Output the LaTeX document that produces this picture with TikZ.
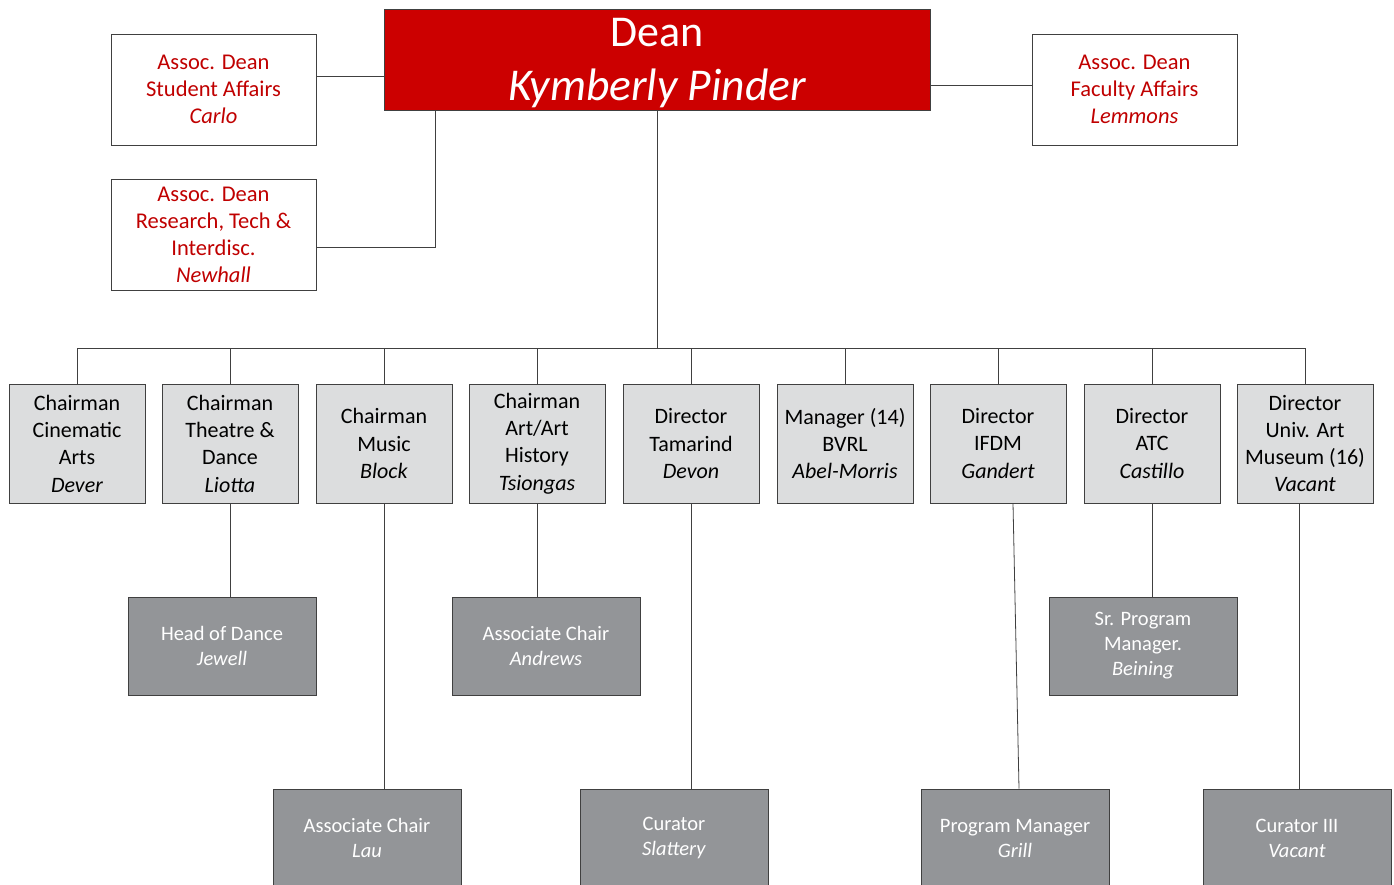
\documentclass[tikz,border=0pt]{standalone}
\usepackage{fontspec}
\setmainfont{Carlito}
\definecolor{deanred}{HTML}{CC0000}
\definecolor{assocred}{HTML}{C00000}
\definecolor{edgegray}{HTML}{404040}
\definecolor{unitgray}{HTML}{DCDDDE}
\definecolor{staffgray}{HTML}{939598}
\begin{document}
\begin{tikzpicture}[x=1pt,y=-1pt,
  conn/.style={draw=edgegray,line width=0.8pt},
  boxbase/.style={draw=edgegray,line width=0.8pt,inner sep=0pt,align=center},
  deanbox/.style={boxbase,fill=deanred,text=white,minimum width=546pt,minimum height=101pt,
    font=\fontsize{44}{54}\selectfont,text height=90pt,text depth=9pt},
  assoc/.style={boxbase,fill=white,text=assocred,minimum width=205pt,minimum height=111pt,
    font=\fontsize{22.5}{27}\selectfont},
  unit/.style={boxbase,fill=unitgray,text=black,minimum width=136pt,minimum height=119pt,
    font=\fontsize{22}{27.3}\selectfont},
  staff/.style={boxbase,fill=staffgray,text=white,minimum width=188pt,minimum height=98pt,
    font=\fontsize{20.5}{25}\selectfont}]
\useasboundingbox (0,0) rectangle (1394,884);
\clip (0,0) rectangle (1394,884);

% Dean and associate deans
\node[deanbox] (dean) at (657,59.5) {Dean\\{\fontsize{45.5}{54}\selectfont\itshape Kymberly Pinder}};
\node[assoc] (sa) at (213.5,89.5) {Assoc. Dean\\Student Affairs\\\textit{Carlo}};
\node[assoc] (rt) at (213.5,234.5) {Assoc. Dean\\Research, Tech \&\\Interdisc.\\\textit{Newhall}};
\node[assoc] (fa) at (1134.5,89.5) {Assoc. Dean\\Faculty Affairs\\\textit{Lemmons}};

% Departments and units
\node[unit] (cin) at (77,443.5) {Chairman\\Cinematic\\Arts\\\textit{Dever}};
\node[unit] (thd) at (230,443.5) {Chairman\\Theatre \&\\Dance\\\textit{Liotta}};
\node[unit] (mus) at (384,443.5) {Chairman\\Music\\\textit{Block}};
\node[unit] (art) at (537,443.5) {Chairman\\Art/Art\\History\\\textit{Tsiongas}};
\node[unit] (tam) at (691,443.5) {Director\\Tamarind\\\textit{Devon}};
\node[unit] (bvrl) at (845,443.5) {Manager (14)\\BVRL\\\textit{Abel-Morris}};
\node[unit] (ifdm) at (998,443.5) {Director\\IFDM\\\textit{Gandert}};
\node[unit] (atc) at (1152,443.5) {Director\\ATC\\\textit{Castillo}};
\node[unit] (uam) at (1305,443.5) {Director\\Univ. Art\\Museum (16)\\\textit{Vacant}};

% Staff reporting to units
\node[staff] (dance) at (222,646) {Head of Dance\\\textit{Jewell}};
\node[staff] (andrews) at (546,646) {Associate Chair\\\textit{Andrews}};
\node[staff] (beining) at (1143,646) {Sr. Program\\Manager.\\\textit{Beining}};
\node[staff] (lau) at (367,838) {Associate Chair\\\textit{Lau}};
\node[staff] (slattery) at (674,838) {Curator\\\textit{Slattery}};
\node[staff] (grill) at (1015,838) {Program Manager\\\textit{Grill}};
\node[staff] (curator) at (1297,838) {Curator III\\\textit{Vacant}};

% Dean to associate deans
\draw[conn] ([yshift=13.5pt]sa.east) -- ([yshift=13.5pt]sa.east -| dean.west);
\draw[conn] ([yshift=4.5pt]fa.west) -- ([yshift=4.5pt]fa.west -| dean.east);
\draw[conn] ([yshift=-12.5pt]rt.east) -| ([xshift=-222pt]dean.south);

% Dean to units (bus)
\draw[conn] (dean.south) -- (dean.south |- 0,349);
\draw[conn] (cin.north) -- ++(0,-35) -| (uam.north);
\foreach \n in {thd,mus,art,tam,bvrl,ifdm,atc}
  \draw[conn] (\n.north) -- ++(0,-35);

% Units to staff
\draw[conn] (thd.south) -- (thd.south |- dance.north);
\draw[conn] (art.south) -- (art.south |- andrews.north);
\draw[conn] (atc.south) -- (atc.south |- beining.north);
\draw[conn] (mus.south) -- (mus.south |- lau.north);
\draw[conn] (tam.south) -- (tam.south |- slattery.north);
\draw[conn] ([xshift=15pt]ifdm.south) -- ([xshift=4pt]grill.north);
\draw[conn] ([xshift=-6pt]uam.south) -- ([xshift=-6pt]uam.south |- curator.north);
\end{tikzpicture}
\end{document}
